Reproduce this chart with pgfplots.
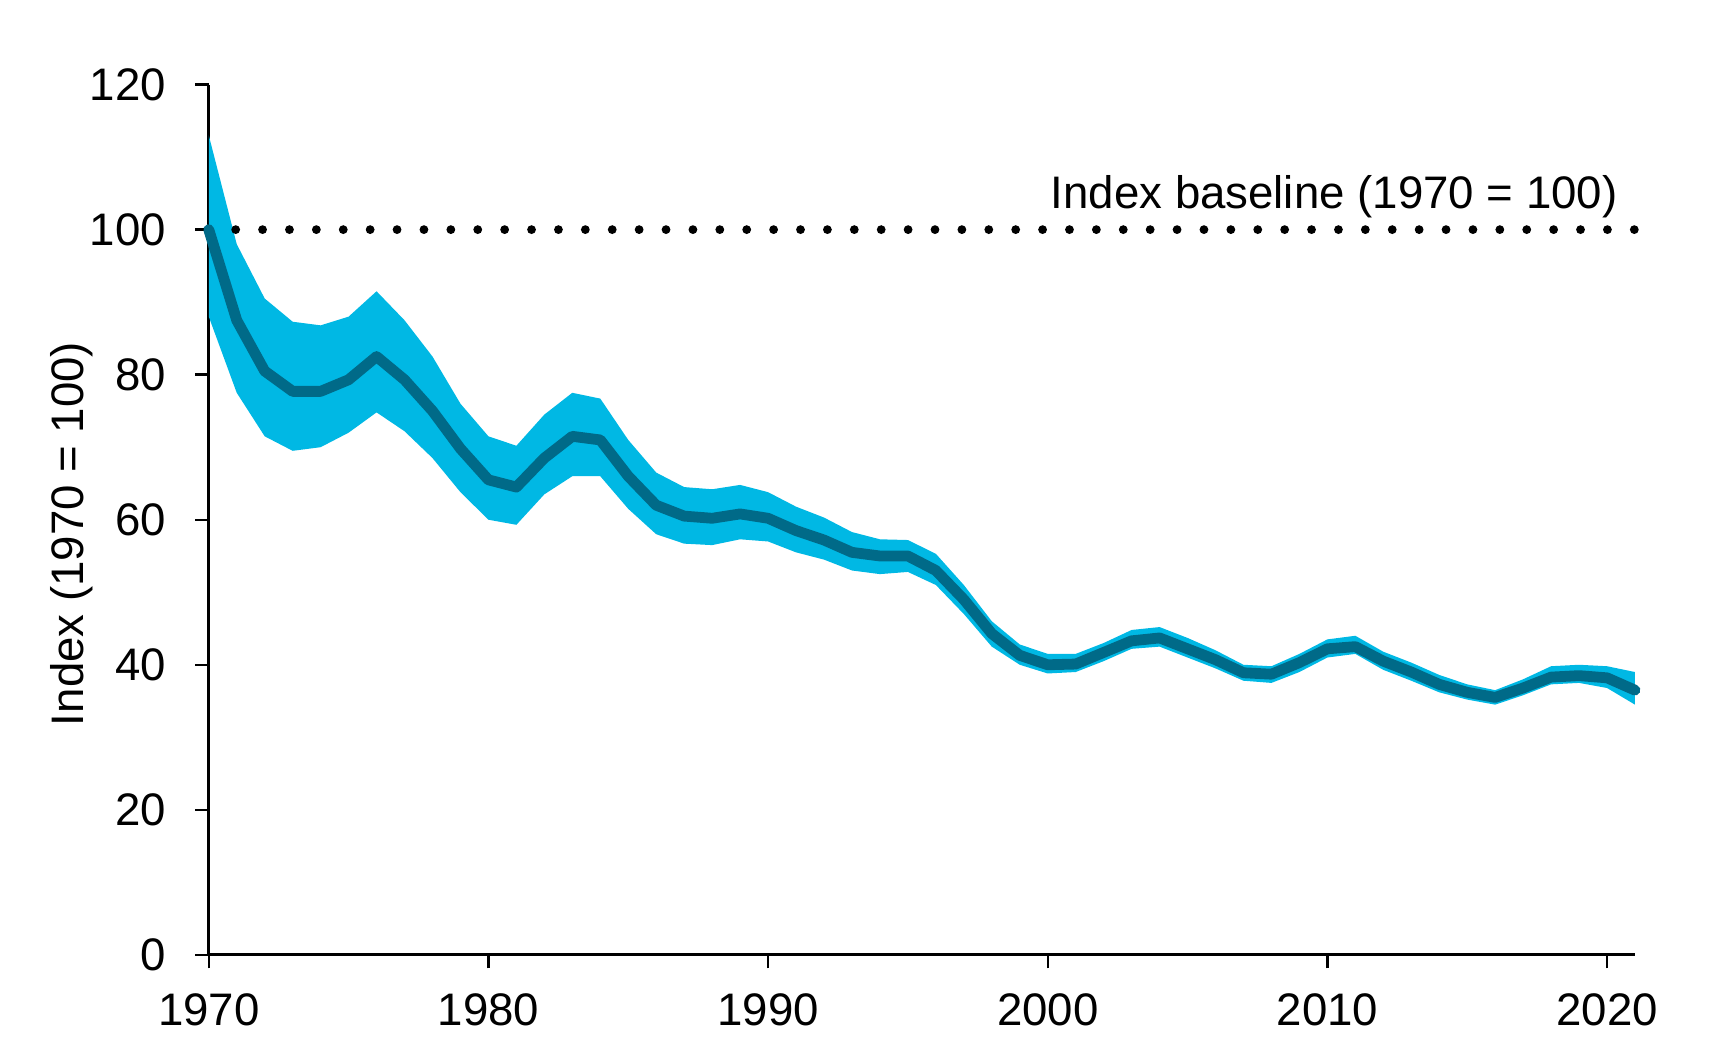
\documentclass[border=0pt]{standalone}
\usepackage{fontspec}
\setmainfont{Liberation Sans}
\usepackage{pgfplots}
\pgfplotsset{compat=1.18}
\usepackage{pgfplotstable}

\definecolor{band}{RGB}{0,184,228}
\definecolor{mean}{RGB}{0,106,136}

% year, central index, lower and upper bound
\pgfplotstableread{
year mid lo hi
1970 100.0 88.0 113.0
1971 87.5 77.5 98.0
1972 80.5 71.5 90.5
1973 77.7 69.5 87.3
1974 77.7 70.0 86.8
1975 79.3 72.0 88.0
1976 82.5 74.8 91.5
1977 79.3 72.2 87.5
1978 75.0 68.5 82.5
1979 69.8 63.8 76.0
1980 65.5 60.0 71.5
1981 64.5 59.3 70.2
1982 68.5 63.5 74.5
1983 71.5 66.0 77.5
1984 71.0 66.0 76.7
1985 66.0 61.5 71.0
1986 62.0 58.0 66.5
1987 60.5 56.7 64.5
1988 60.2 56.5 64.2
1989 60.8 57.3 64.8
1990 60.2 57.0 63.8
1991 58.5 55.5 61.8
1992 57.2 54.5 60.3
1993 55.5 53.0 58.3
1994 55.0 52.5 57.3
1995 55.0 52.8 57.2
1996 53.0 51.0 55.3
1997 49.0 47.0 51.0
1998 44.3 42.5 46.0
1999 41.3 40.0 42.8
2000 40.0 38.8 41.5
2001 40.1 39.0 41.5
2002 41.7 40.5 43.0
2003 43.3 42.2 44.8
2004 43.7 42.5 45.2
2005 42.2 41.0 43.7
2006 40.7 39.5 42.0
2007 38.9 37.8 40.0
2008 38.7 37.5 39.8
2009 40.3 39.0 41.5
2010 42.2 41.0 43.5
2011 42.5 41.5 44.0
2012 40.5 39.3 41.8
2013 39.0 37.8 40.3
2014 37.3 36.2 38.6
2015 36.2 35.2 37.3
2016 35.5 34.5 36.5
2017 36.8 35.8 38.0
2018 38.3 37.3 39.8
2019 38.5 37.5 40.0
2020 38.2 36.8 39.8
2021 36.5 34.5 39.0
}\datatable

\pgfplotstableread{
year base
1970 100
2021 100
}\basetable

\begin{document}
\fontsize{11.4}{13.7}\selectfont
\begin{tikzpicture}
\path[use as bounding box] (-52.2pt,-22.8pt) rectangle (378.6pt,238.75pt);
\begin{axis}[
  at={(0,0)}, anchor=south west,
  scale only axis,
  width=356.6pt, height=217.6pt,
  xmin=1970, xmax=2021,
  ymin=0, ymax=120,
  axis lines*=left,
  axis line style={line width=0.8pt, black},
  xtick={1970,1980,...,2020},
  ytick={0,20,...,120},
  tick align=outside,
  tick style={line width=0.6pt, black},
  major tick length=3.4pt,
  /pgf/number format/1000 sep={},
  /pgf/number format/assume math mode=true,
  ticklabel style={font=\fontsize{11.4}{13.7}\selectfont},
  xticklabel style={yshift=-2.3pt},
  yticklabel style={xshift=-3.3pt},
  ylabel={Index (1970 = 100)},
  ylabel style={at={(axis description cs:-0.0962,0.4836)}, anchor=center, font=\fontsize{11.4}{13.7}\selectfont},
  clip=false,
]
% band: lower bound, then the width of the band stacked on it
\addplot[draw=none, stack plots=y, forget plot] table[x=year, y=lo] {\datatable};
\addplot[fill=band, draw=none, stack plots=y] table[x=year, y expr=\thisrow{hi}-\thisrow{lo}] {\datatable} \closedcycle;
\addplot[black, line width=2.2pt, line cap=round, dash pattern=on 0pt off 6.725pt, stack plots=false] table[x=year, y=base] {\basetable};
\addplot[mean, line width=2.7pt, line join=round, line cap=round, stack plots=false] table[x=year, y=mid] {\datatable};
\node[anchor=east, inner sep=0pt, font=\fontsize{11.4}{13.7}\selectfont] at (axis cs:2020.4,104.5) {Index baseline (1970 = 100)};
\end{axis}
\end{tikzpicture}
\end{document}
